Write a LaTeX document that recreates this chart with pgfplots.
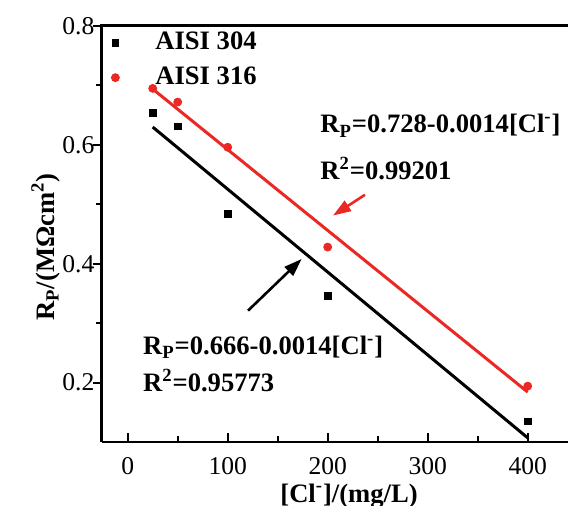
\documentclass[border=0pt]{standalone}
\usepackage{fontspec}
\setmainfont{Liberation Serif}
\usepackage{pgfplots}
\pgfplotsset{compat=1.18}
\usetikzlibrary{arrows.meta}
\definecolor{fitred}{RGB}{236,40,36}

\begin{document}
\fontsize{13.3}{16}\selectfont
\begin{tikzpicture}
\begin{axis}[
  scale only axis,
  width=243pt, height=208pt,
  xmin=-26, xmax=460, ymin=0.1, ymax=0.8,
  axis lines=left,
  axis line style={-, line width=1.3pt},
  xtick={0,100,200,300,400},
  minor xtick={50,150,250,350},
  ytick={0.2,0.4,0.6,0.8},
  minor ytick={0.3,0.5,0.7},
  xtick align=inside, ytick align=outside,
  major tick length=4.5pt, minor tick length=3pt,
  tick style={line width=1pt, black},
  /pgf/number format/assume math mode=true,
  yticklabel style={xshift=5.5pt, /pgf/number format/.cd, fixed, fixed zerofill, precision=1},
  xticklabel style={yshift=-3pt},
  tick label style={font=\fontsize{12.8}{15}\selectfont},
  clip=false,
  legend style={draw=none, fill=none, inner sep=0pt,
    at={(axis cs:-16.7,0.797)}, anchor=north west,
    font=\fontsize{13.3}{16}\selectfont\bfseries,
    column sep=16pt, row sep=2.5pt},
  legend cell align=left,
]
% fitted lines
\addplot[black, line width=1.5pt, forget plot] coordinates {(25,0.630) (400,0.107)};
\addplot[fitred, line width=1.5pt, forget plot] coordinates {(25,0.694) (400,0.184)};

\addplot[only marks, mark=square*, mark size=1.6pt, black] coordinates {
  (25,0.654) (50,0.631) (100,0.4835) (200,0.346) (400,0.135)};
\addlegendentry{AISI 304}
\addplot[only marks, mark=*, mark size=2pt, fitred] coordinates {
  (25,0.695) (50,0.672) (100,0.596) (200,0.428) (400,0.194)};
\addlegendentry{AISI 316}

% equations
\node[anchor=base west, inner sep=0pt, font=\bfseries] at (axis cs:192.3,0.620)
  {R\textsubscript{P}=0.728-0.0014[Cl\textsuperscript{-}]};
\node[anchor=base west, inner sep=0pt, font=\bfseries] at (axis cs:192.3,0.541)
  {R\textsuperscript{2}=0.99201};
\node[anchor=base west, inner sep=0pt, font=\bfseries] at (axis cs:15,0.247)
  {R\textsubscript{P}=0.666-0.0014[Cl\textsuperscript{-}]};
\node[anchor=base west, inner sep=0pt, font=\bfseries] at (axis cs:15,0.185)
  {R\textsuperscript{2}=0.95773};

\draw[fitred, line width=1.3pt, -{Triangle[length=9pt, width=6pt]}]
  (axis cs:237.3,0.516) -- (axis cs:205.3,0.481);
\draw[black, line width=1.3pt, -{Triangle[length=9pt, width=6pt]}]
  (axis cs:120.3,0.321) -- (axis cs:174,0.408);

% axis labels
\node[anchor=base, inner sep=0pt, font=\bfseries] at (axis cs:221.3,-0.001)
  {[Cl\textsuperscript{-}]/(mg/L)};
\node[anchor=base, inner sep=0pt, rotate=90, font=\bfseries] at (axis cs:-73.5,0.428)
  {R\textsubscript{P}/(MΩcm\textsuperscript{2})};
\end{axis}
% top frame of the plot area, as a thin filled strip
\fill[black] (-0.65pt,207.3pt) rectangle (240pt,208.8pt);
\pgfresetboundingbox
\path[use as bounding box] (-50.85pt,-32pt) rectangle (233.15pt,221pt);
\end{tikzpicture}
\end{document}
